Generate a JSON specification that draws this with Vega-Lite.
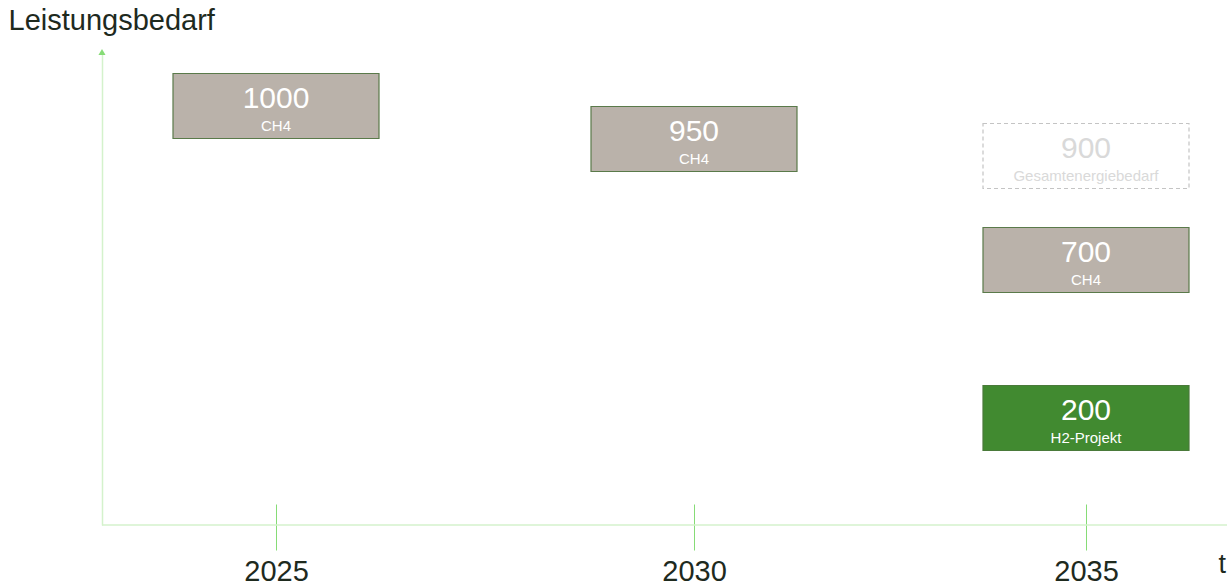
{
  "$schema": "https://vega.github.io/schema/vega-lite/v6.json",
  "width": 1125,
  "height": 473,
  "autosize": "none",
  "padding": {"left": 102, "top": 52, "right": 0, "bottom": 62},
  "background": "white",
  "config": {"view": {"stroke": null}, "font": "Liberation Sans"},
  "datasets": {
    "boxes": [
      {"Jahr": 2025, "Leistung": 1000, "Typ": "CH4"},
      {"Jahr": 2030, "Leistung": 950, "Typ": "CH4"},
      {"Jahr": 2035, "Leistung": 900, "Typ": "Gesamtenergiebedarf"},
      {"Jahr": 2035, "Leistung": 700, "Typ": "CH4"},
      {"Jahr": 2035, "Leistung": 200, "Typ": "H2-Projekt"}
    ],
    "xachse": [{"Jahr": 2022.92, "Leistung": 0}],
    "pfeil": [{"Jahr": 2022.92, "Leistung": 1100}]
  },
  "encoding": {
    "x": {
      "field": "Jahr",
      "type": "quantitative",
      "scale": {"domain": [2022.92, 2025, 2030, 2035, 2036.82], "range": [0, 174, 592, 984, 1125], "nice": false, "zero": false},
      "axis": {
        "values": [2025, 2030, 2035],
        "format": "d",
        "domain": false,
        "grid": false,
        "offset": -21,
        "tickSize": 46,
        "tickColor": "#86dc76",
        "tickWidth": 1,
        "labelFont": "Liberation Sans",
        "labelFontSize": 29,
        "labelColor": "#1e2a1e",
        "labelBaseline": "alphabetic",
        "labelPadding": 30,
        "title": "t",
        "titleX": 1116,
        "titleY": 68,
        "titleAlign": "left",
        "titleBaseline": "alphabetic",
        "titleFont": "Liberation Sans",
        "titleFontSize": 27,
        "titleFontWeight": "normal",
        "titleColor": "#1e2a1e"
      }
    },
    "y": {
      "field": "Leistung",
      "type": "quantitative",
      "scale": {"domain": [0, 200, 700, 900, 950, 1000, 1100], "range": [473, 366, 208, 104, 87, 54, 0], "nice": false, "zero": false},
      "axis": {
        "domain": true,
        "domainColor": "#d4f2cc",
        "domainWidth": 1.5,
        "ticks": false,
        "labels": false,
        "grid": false,
        "title": "Leistungsbedarf",
        "titleAngle": 0,
        "titleX": -94,
        "titleY": -23,
        "titleAlign": "left",
        "titleBaseline": "alphabetic",
        "titleFont": "Liberation Sans",
        "titleFontSize": 29,
        "titleFontWeight": "normal",
        "titleColor": "#1e2a1e"
      }
    }
  },
  "layer": [
    {
      "data": {"name": "xachse"},
      "mark": {"type": "rule", "color": "#d4f2cc", "strokeWidth": 1.5},
      "encoding": {"x2": {"datum": 2036.82}}
    },
    {
      "data": {"name": "pfeil"},
      "mark": {"type": "point", "shape": "triangle-up", "filled": true, "fill": "#86dc76", "size": 50, "opacity": 1}
    },
    {
      "data": {"name": "boxes"},
      "transform": [{"filter": "datum.Typ !== 'Gesamtenergiebedarf'"}],
      "mark": {"type": "rect", "width": 206, "height": 65, "strokeWidth": 1.2},
      "encoding": {
        "fill": {"field": "Typ", "type": "nominal", "legend": null,
          "scale": {"domain": ["CH4", "H2-Projekt"], "range": ["#bab2aa", "#418a30"]}},
        "stroke": {"field": "Typ", "type": "nominal", "legend": null,
          "scale": {"domain": ["CH4", "H2-Projekt"], "range": ["#5a7a4a", "#4a7a3a"]}}
      }
    },
    {
      "data": {"name": "boxes"},
      "transform": [{"filter": "datum.Typ === 'Gesamtenergiebedarf'"}],
      "mark": {"type": "rect", "width": 206, "height": 65, "strokeWidth": 1.2, "fill": "#ffffff", "fillOpacity": 0, "stroke": "#c4c4c4", "strokeDash": [4, 3]}
    },
    {
      "data": {"name": "boxes"},
      "mark": {"type": "text", "fontSize": 30, "baseline": "alphabetic", "align": "center", "dy": 1.5, "font": "Liberation Sans"},
      "encoding": {
        "text": {"field": "Leistung", "type": "quantitative", "format": "d"},
        "color": {"condition": {"test": "datum.Typ === 'Gesamtenergiebedarf'", "value": "#d9d9d9"}, "value": "#ffffff"}
      }
    },
    {
      "data": {"name": "boxes"},
      "mark": {"type": "text", "fontSize": 15, "baseline": "alphabetic", "align": "center", "dy": 25, "font": "Liberation Sans"},
      "encoding": {
        "text": {"field": "Typ", "type": "nominal"},
        "color": {"condition": {"test": "datum.Typ === 'Gesamtenergiebedarf'", "value": "#d9d9d9"}, "value": "#ffffff"}
      }
    }
  ]
}
